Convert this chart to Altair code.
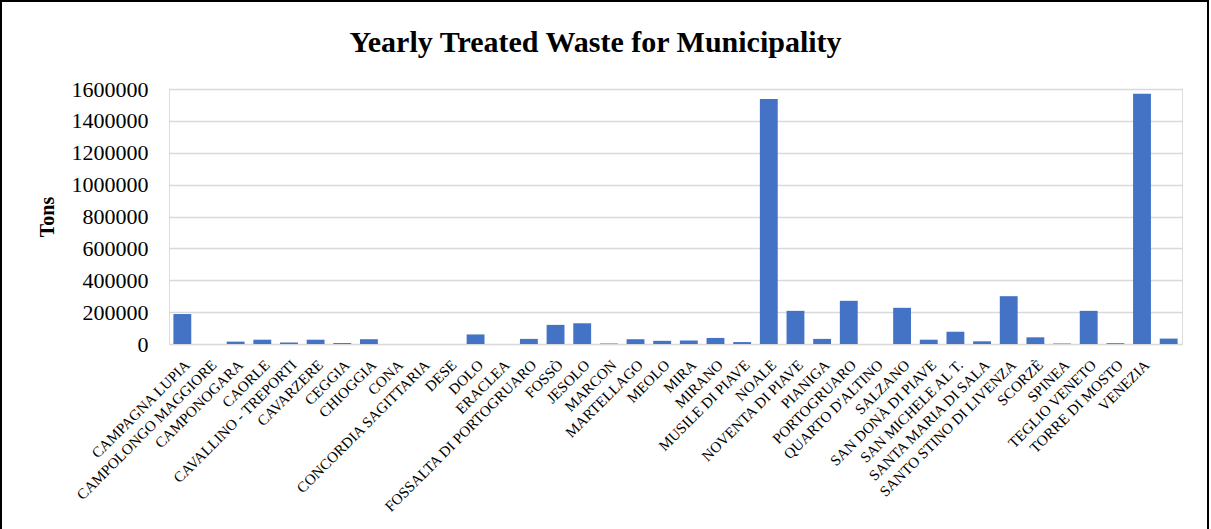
import altair as alt
import pandas as pd

municipalities = [
    "CAMPAGNA LUPIA", "CAMPOLONGO MAGGIORE", "CAMPONOGARA", "CAORLE",
    "CAVALLINO - TREPORTI", "CAVARZERE", "CEGGIA", "CHIOGGIA", "CONA",
    "CONCORDIA SAGITTARIA", "DESE", "DOLO", "ERACLEA", "FOSSALTA DI PORTOGRUARO",
    "FOSSÒ", "JESOLO", "MARCON", "MARTELLAGO", "MEOLO", "MIRA", "MIRANO",
    "MUSILE DI PIAVE", "NOALE", "NOVENTA DI PIAVE", "PIANIGA", "PORTOGRUARO",
    "QUARTO D'ALTINO", "SALZANO", "SAN DONÀ DI PIAVE", "SAN MICHELE AL T.",
    "SANTA MARIA DI SALA", "SANTO STINO DI LIVENZA", "SCORZÈ", "SPINEA",
    "TEGLIO VENETO", "TORRE DI MOSTO", "VENEZIA", " ",
]
tons = [
    188000, 0, 15000, 27000,
    9000, 27000, 6000, 30000, 0,
    0, 0, 60000, 0, 32000,
    120000, 130000, 3000, 30000, 20000, 22000, 38000,
    12000, 1537000, 208000, 32000, 271000,
    0, 227000, 27000, 77000,
    17000, 300000, 42000, 3000,
    208000, 5000, 1570000, 34000,
]
y_ticks = [0, 200000, 400000, 600000, 800000, 1000000, 1200000, 1400000, 1600000]

df = pd.DataFrame({"Municipality": municipalities, "Tons": tons})

FONT = "Liberation Serif"
W, H = 1013, 255
PAD_L, PAD_T = 169, 89

bars = alt.Chart(df).mark_bar(color="#4472C4").encode(
    x=alt.X(
        "Municipality:N",
        sort=None,
        title=None,
        scale=alt.Scale(paddingInner=0.33, paddingOuter=0.165),
        axis=alt.Axis(
            labelAngle=-45,
            labelAlign="right",
            labelBaseline="top",
            labelFont=FONT,
            labelFontSize=15,
            labelColor="#000000",
            labelPadding=13,
            labelLimit=400,
            labelOverlap=False,
            ticks=False,
            domain=False,
            grid=False,
        ),
    ),
    y=alt.Y(
        "Tons:Q",
        scale=alt.Scale(domain=[0, 1600000], nice=False),
        axis=alt.Axis(
            values=y_ticks,
            format="d",
            title="Tons",
            titleFont=FONT,
            titleFontSize=20,
            titleFontWeight="bold",
            titleColor="#000000",
            titlePadding=14,
            labelFont=FONT,
            labelFontSize=22,
            labelColor="#000000",
            labelPadding=21,
            ticks=False,
            domain=False,
            grid=True,
            gridColor="#D9D9D9",
            gridWidth=1.5,
        ),
    ),
)

frame = alt.Chart(pd.DataFrame({"a": [0]})).mark_rect(
    filled=False, stroke="#000000", strokeWidth=2
).encode(
    x=alt.value(-168), x2=alt.value(1039), y=alt.value(-88), y2=alt.value(460)
)

chart = alt.layer(bars, frame).properties(
    width=W,
    height=H,
    title=alt.TitleParams(
        "Yearly Treated Waste for Municipality",
        font=FONT,
        fontSize=30,
        fontWeight="bold",
        color="#000000",
        anchor="middle",
        frame="group",
        dx=-80,
        dy=62,
    ),
    autosize=alt.AutoSizeParams(type="none"),
    padding={"left": PAD_L, "top": PAD_T, "right": 1211 - PAD_L - W, "bottom": 529 - PAD_T - H},
).configure_view(stroke=None).configure(background="white")

chart.save("out.html", embed_options={"renderer": "svg", "actions": False})
